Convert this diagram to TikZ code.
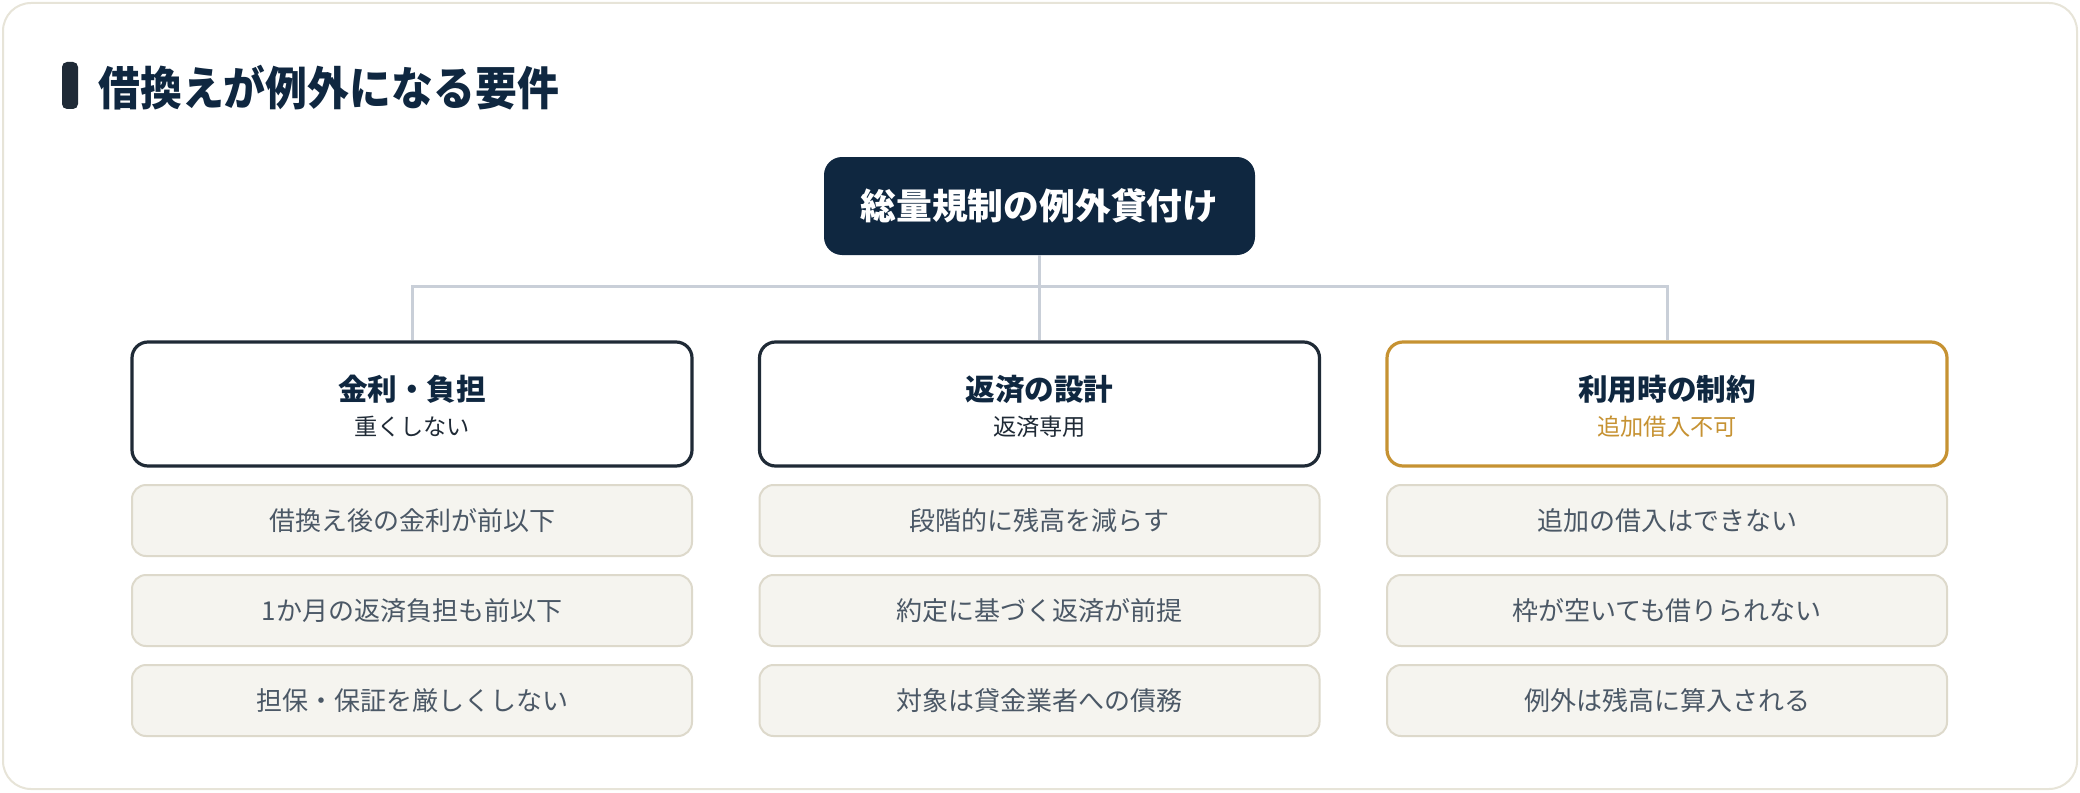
\documentclass[tikz,border=0pt]{standalone}
\usepackage{fontspec}
\setmainfont{Noto Sans CJK JP}
\newfontfamily\headfont[FakeStretch=0.91]{Noto Sans CJK JP}
\usepackage{tikz}
\usetikzlibrary{calc,positioning}
\definecolor{navy}{HTML}{0F2740}
\definecolor{slate}{HTML}{1F2A36}
\definecolor{gold}{HTML}{C69232}
\definecolor{itemfill}{HTML}{F5F4EF}
\definecolor{itemline}{HTML}{DDD9CB}
\definecolor{itemtext}{HTML}{4B5866}
\definecolor{linkgray}{HTML}{C9CFD8}
\definecolor{frameline}{HTML}{E7E4D8}
\tikzset{
	root/.style={
		fill=navy,
		text=white,
		rounded corners=9pt,
		minimum width=215.5pt,
		minimum height=49pt,
		font=\bfseries\fontsize{17.9pt}{20pt}\selectfont
	},
	category/.style={
		draw=slate,
		fill=white,
		line width=1.6pt,
		rounded corners=8pt,
		minimum width=280pt,
		minimum height=62pt
	},
	goldcategory/.style={
		category,
		draw=gold
	},
	cattitle/.style={
		inner sep=0,
		text=navy,
		font=\bfseries\fontsize{14.8pt}{17pt}\selectfont
	},
	catsub/.style={
		inner sep=0,
		text=slate,
		font=\fontsize{11.6pt}{14pt}\selectfont
	},
	item/.style={
		draw=itemline,
		fill=itemfill,
		line width=1pt,
		rounded corners=7pt,
		minimum width=280pt,
		minimum height=35.5pt,
		text=itemtext,
		font=\fontsize{13pt}{15pt}\selectfont
	},
	link/.style={
		draw=linkgray,
		line width=1.5pt
	}
}
\begin{document}
\begin{tikzpicture}[x=0.5pt, y=-0.5pt]

	\useasboundingbox (0,0) rectangle (2080,792);

	%% Frame and heading
	\draw[frameline, line width=1pt, fill=white, rounded corners=14pt] (3,3) rectangle (2077,789);
	\fill[slate, rounded corners=2.5pt] (62,62) rectangle (78,109);
	\node[anchor=west, inner sep=0, text=navy, font=\headfont\bfseries\fontsize{23pt}{26pt}\selectfont] (heading) at (98,88) {借換えが例外になる要件};

	%% Root
	\node[root] (root) at (1039.5,206) {総量規制の例外貸付け};

	%% Categories
	\node[category] (cat1) at (412,404) {};
	\node[category] (cat2) at (1039.5,404) {};
	\node[goldcategory] (cat3) at (1667,404) {};

	\node[cattitle] (cat1title) at ([yshift=7.5pt]cat1.center) {金利・負担};
	\node[catsub] (cat1sub) at ([yshift=-11.5pt]cat1.center) {重くしない};
	\node[cattitle] (cat2title) at ([yshift=7.5pt]cat2.center) {返済の設計};
	\node[catsub] (cat2sub) at ([yshift=-11.5pt]cat2.center) {返済専用};
	\node[cattitle] (cat3title) at ([yshift=7.5pt]cat3.center) {利用時の制約};
	\node[catsub, text=gold] (cat3sub) at ([yshift=-11.5pt]cat3.center) {追加借入不可};

	% Links
	\coordinate (split) at (1039.5,286);
	\draw[link] (cat1.north) |- (split) -| (cat3.north);
	\draw[link] (root.south) -- (cat2.north);

	%% Items
	\foreach \txt [count=\i] in {借換え後の金利が前以下, 1か月の返済負担も前以下, 担保・保証を厳しくしない} {
		\node[item] (item1-\i) at (412, 430.5 + 90*\i) {\txt};
	}
	\foreach \txt [count=\i] in {段階的に残高を減らす, 約定に基づく返済が前提, 対象は貸金業者への債務} {
		\node[item] (item2-\i) at (1039.5, 430.5 + 90*\i) {\txt};
	}
	\foreach \txt [count=\i] in {追加の借入はできない, 枠が空いても借りられない, 例外は残高に算入される} {
		\node[item] (item3-\i) at (1667, 430.5 + 90*\i) {\txt};
	}

\end{tikzpicture}
\end{document}
